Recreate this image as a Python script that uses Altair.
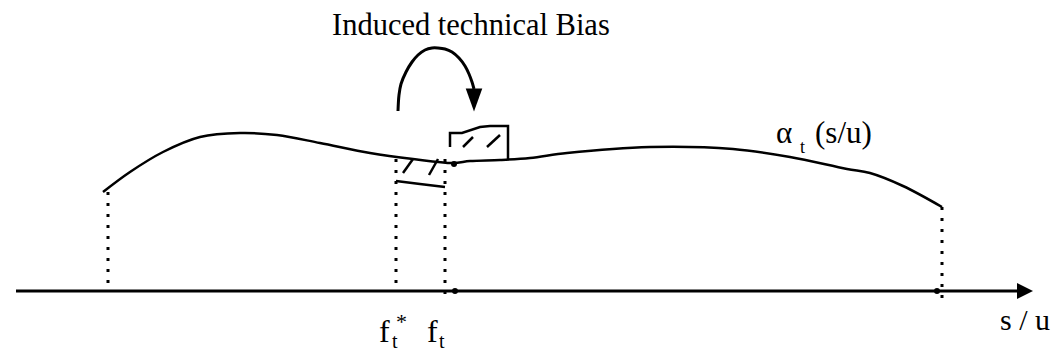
import altair as alt
import pandas as pd

# ---- data (page pixel coordinates) ----
# main curve alpha_t(s/u)
curve_x = [103, 130, 163, 200, 240, 277, 320, 370, 413, 453, 470, 500, 530, 567, 650, 733, 790, 847, 870, 903, 942]
curve_y = [192, 172, 152, 137, 133, 135, 143, 153, 159, 163, 161, 160, 158, 153, 147, 149, 157, 169, 173, 186, 207]

# curved arrow "Induced technical Bias"
arc_x = [398, 399, 401, 406, 412, 418, 425, 432, 438, 445, 452, 459, 465, 469, 472, 474]
arc_y = [111, 95, 84, 72, 62, 55, 50, 48, 48, 49, 52, 58, 66, 74, 82, 89]
arc_head = (474, 100)

# shifted box above the curve
box_x = [450, 450, 462, 480, 490, 508, 508]
box_y = [147, 133, 133, 127, 126, 126, 159]

# original area below the curve (bottom edge)
low_x = [396, 420, 445]
low_y = [181, 184, 187]

# hatch strokes
hatch_x1 = [403, 429, 463, 487]
hatch_y1 = [173, 175, 147, 147]
hatch_x2 = [413, 438, 473, 500]
hatch_y2 = [159, 159, 137, 135]

# dotted verticals
drop_x = [108, 396, 445, 942]
drop_top = [192, 159, 159, 207]
drop_bottom = [288, 288, 299, 303]

# small dots
pt_x = [454, 455, 937]
pt_y = [164, 291, 291]

# horizontal axis
axis_x0, axis_x1, axis_y = 16, 1020, 291
axis_head = (1025, 291)

# labels
lab_text = ["Induced technical Bias", "α", "t", "(s/u)", "f", "t", "*", "f", "t", "s / u"]
lab_x = [332, 776, 800, 815, 379, 392, 396, 427, 439, 1000]
lab_y = [35, 143, 153, 143, 342, 348, 329, 342, 348, 330]
lab_size = [30.5, 31, 18, 31, 32, 20, 22, 32, 20, 30]

# ---- chart ----
W, H = 1043, 345
xs = alt.Scale(domain=[8, 8 + W], nice=False, zero=False)
ys = alt.Scale(domain=[8, 8 + H], nice=False, zero=False, reverse=True)
X = lambda f: alt.X(f, type="quantitative", scale=xs, axis=None)
Y = lambda f: alt.Y(f, type="quantitative", scale=ys, axis=None)

def path_df(xv, yv):
    return pd.DataFrame({"x": xv, "y": yv, "i": list(range(len(xv)))})

curve = alt.Chart(path_df(curve_x, curve_y)).mark_line(
    color="black", strokeWidth=2.5, interpolate="catmull-rom"
).encode(x=X("x"), y=Y("y"), order="i:Q")

arc = alt.Chart(path_df(arc_x, arc_y)).mark_line(
    color="black", strokeWidth=3, interpolate="catmull-rom"
).encode(x=X("x"), y=Y("y"), order="i:Q")

box = alt.Chart(path_df(box_x, box_y)).mark_line(
    color="black", strokeWidth=2.5, interpolate="linear"
).encode(x=X("x"), y=Y("y"), order="i:Q")

low = alt.Chart(path_df(low_x, low_y)).mark_line(
    color="black", strokeWidth=2.5, interpolate="monotone"
).encode(x=X("x"), y=Y("y"), order="i:Q")

hatch = alt.Chart(pd.DataFrame({"x": hatch_x1, "y": hatch_y1, "x2": hatch_x2, "y2": hatch_y2})).mark_rule(
    color="black", strokeWidth=2.5
).encode(x=X("x"), y=Y("y"), x2="x2", y2="y2")

drops = alt.Chart(pd.DataFrame({"x": drop_x, "y": drop_top, "y2": drop_bottom})).mark_rule(
    color="black", strokeWidth=3, strokeDash=[3, 8], strokeCap="butt"
).encode(x=X("x"), y=Y("y"), y2="y2")

axis_line = alt.Chart(pd.DataFrame({"x": [axis_x0], "x2": [axis_x1], "y": [axis_y]})).mark_rule(
    color="black", strokeWidth=3
).encode(x=X("x"), x2="x2", y=Y("y"))

heads = alt.Chart(pd.DataFrame({
    "x": [arc_head[0], axis_head[0]],
    "y": [arc_head[1], axis_head[1]],
    "shape": ["M-0.72,-1L0.72,-1L0,1Z", "M-1,-1L1,0L-1,1Z"],
    "size": [529, 256],
})).mark_point(filled=True, color="black", opacity=1, strokeWidth=0).encode(
    x=X("x"), y=Y("y"),
    shape=alt.Shape("shape:N", scale=None),
    size=alt.Size("size:Q", scale=None),
)

dots = alt.Chart(pd.DataFrame({"x": pt_x, "y": pt_y})).mark_circle(
    color="black", size=36, opacity=1
).encode(x=X("x"), y=Y("y"))

labels = alt.Chart(pd.DataFrame({"t": lab_text, "x": lab_x, "y": lab_y, "s": lab_size})).mark_text(
    font="Liberation Serif", align="left", baseline="alphabetic", color="black"
).encode(x=X("x"), y=Y("y"), text="t:N", size=alt.Size("s:Q", scale=None))

chart = alt.layer(
    drops, axis_line, curve, arc, box, low, hatch, heads, dots, labels
).properties(
    width=W, height=H, padding=0, autosize=alt.AutoSizeParams(type="none")
).configure_view(stroke=None)

chart.save("out.html", embed_options={"renderer": "svg", "actions": False})
